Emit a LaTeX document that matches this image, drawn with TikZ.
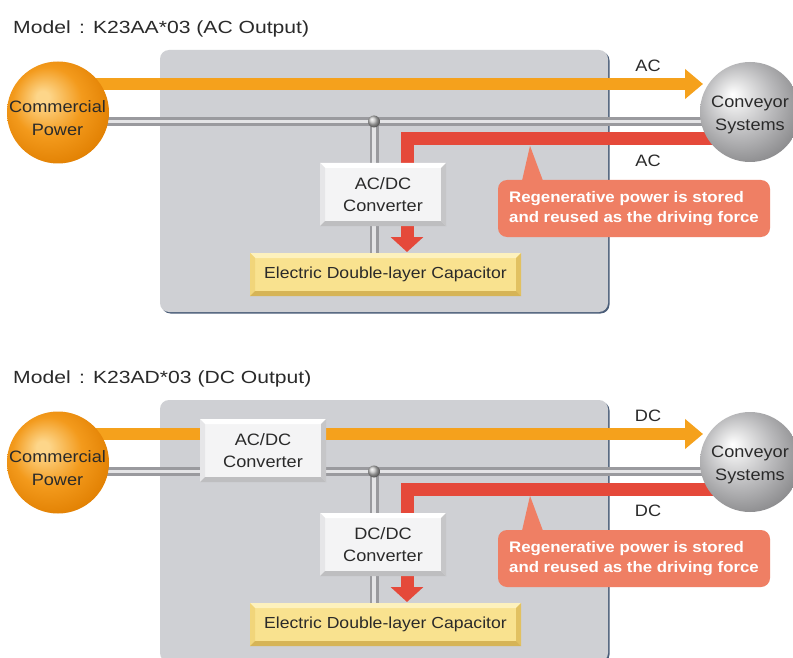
\documentclass[tikz,border=0pt]{standalone}
\usepackage{fontspec}
\setmainfont{Liberation Sans}[FakeStretch=1.1]
\newfontfamily\titlefont{Liberation Sans}[FakeStretch=1.2]
\usetikzlibrary{arrows.meta,calc}
\pgfdeclarelayer{back}
\pgfdeclarelayer{lines}
\pgfsetlayers{back,lines,main}
\definecolor{txtc}{HTML}{2A2A2A}
\definecolor{panelgray}{HTML}{CFD0D4}
\definecolor{paneledge}{HTML}{4A5D78}
\definecolor{flowor}{HTML}{F5A11C}
\definecolor{flowred}{HTML}{E5493A}
\definecolor{callout}{HTML}{EF7F64}
\definecolor{pipedark}{HTML}{9A9A9E}
\definecolor{pipelight}{HTML}{E4E4E6}
\definecolor{convface}{HTML}{F4F4F5}
\definecolor{convtop}{HTML}{FFFFFF}
\definecolor{convleft}{HTML}{E6E6E8}
\definecolor{convright}{HTML}{C6C6C8}
\definecolor{convbot}{HTML}{BEBEC0}
\definecolor{capface}{HTML}{F9E28F}
\definecolor{captop}{HTML}{FDF1BD}
\definecolor{capleft}{HTML}{F1D57A}
\definecolor{capright}{HTML}{E2C161}
\definecolor{capbot}{HTML}{D6B456}
\definecolor{orhi}{HTML}{FDD68A}
\definecolor{ormid}{HTML}{F39A1C}
\definecolor{ordark}{HTML}{E07E00}
\definecolor{svhi}{HTML}{F4F4F4}
\definecolor{svmid}{HTML}{B8B8BA}
\definecolor{svdark}{HTML}{858587}
\pgfdeclareradialshading{orangeball}{\pgfpoint{-8bp}{8bp}}{color(0bp)=(orhi); color(3bp)=(orhi); color(17bp)=(ormid); color(31bp)=(ordark); color(50bp)=(ordark)}
\pgfdeclareradialshading{silverball}{\pgfpoint{-9bp}{9bp}}{color(0bp)=(white); color(3bp)=(svhi); color(18bp)=(svmid); color(32bp)=(svdark); color(50bp)=(svdark)}
\tikzset{
  lbltext/.style={text=txtc, font=\fontsize{16.5}{20}\selectfont, inner sep=0pt},
  ctext/.style={text=txtc, font=\fontsize{16.5}{23.5}\selectfont, align=center, inner sep=0pt},
  cpball/.style={circle, minimum size=102pt, inner sep=0pt, shading=orangeball},
  cvball/.style={circle, minimum size=100pt, inner sep=0pt, shading=silverball},
  bevelbox/.style n args={4}{path picture={
    \fill[#1] (path picture bounding box.north west) -- (path picture bounding box.north east)
      -- ([shift={(-5pt,-5pt)}]path picture bounding box.north east) -- ([shift={(5pt,-5pt)}]path picture bounding box.north west) -- cycle;
    \fill[#2] (path picture bounding box.north west) -- ([shift={(5pt,-5pt)}]path picture bounding box.north west)
      -- ([shift={(5pt,5pt)}]path picture bounding box.south west) -- (path picture bounding box.south west) -- cycle;
    \fill[#3] (path picture bounding box.north east) -- (path picture bounding box.south east)
      -- ([shift={(-5pt,5pt)}]path picture bounding box.south east) -- ([shift={(-5pt,-5pt)}]path picture bounding box.north east) -- cycle;
    \fill[#4] (path picture bounding box.south west) -- (path picture bounding box.south east)
      -- ([shift={(-5pt,5pt)}]path picture bounding box.south east) -- ([shift={(5pt,5pt)}]path picture bounding box.south west) -- cycle;
  }},
  convbox/.style={rectangle, minimum width=126pt, minimum height=63pt, inner sep=0pt, fill=convface,
    bevelbox={convtop}{convleft}{convright}{convbot}, text=txtc, font=\fontsize{16.5}{22}\selectfont, align=center},
  capbox/.style={rectangle, minimum width=271pt, minimum height=43pt, inner sep=0pt, fill=capface,
    bevelbox={captop}{capleft}{capright}{capbot}, text=txtc, font=\fontsize{16}{20}\selectfont},
  calloutbox/.style={rectangle, rounded corners=9pt, minimum width=272pt, minimum height=57pt, inner sep=0pt,
    fill=callout, text=white, font=\bfseries\fontsize{15.3}{20}\selectfont, align=left},
  orflow/.style={draw=flowor, line width=12pt, -{Triangle[length=18pt,width=29pt]}},
  redflow/.style={draw=flowred, line width=13pt, line join=miter, -{Triangle[length=15pt,width=32pt]}},
  pipeout/.style={draw=pipedark, line width=9pt},
  pipein/.style={draw=pipelight, line width=3.5pt},
  titlestyle/.style={anchor=base west, inner sep=0pt, text=txtc, font=\titlefont\fontsize{17.6}{20}\selectfont},
}
\newcommand\drawpanel[5]{%
\begin{scope}[shift={(0,#2)}]
  \node[titlestyle] (#1title) at (13,33.3) {Model\hspace{8.5pt}:\hspace{8pt}#3};
  \begin{pgfonlayer}{back}
    \fill[paneledge, rounded corners=9pt] (161.5,51.5) rectangle (609.5,313.5);
    \fill[panelgray, rounded corners=9pt] (160,50) rectangle (608,312);
  \end{pgfonlayer}
  \node[cpball] (#1cp) at (58,112.5) {};
  \node[ctext] (#1cptext) at (57.5,118) {Commercial\\Power};
  \node[cvball] (#1cv) at (750,112) {};
  \node[ctext, font=\fontsize{16.5}{23}\selectfont] (#1cvtext) at (750,114.8) {Conveyor\\Systems};
  \node[capbox] (#1cap) at (385.5,274.5) {Electric Double-layer Capacitor};
  \node[convbox] (#1conv) at (383,194.5) {#5\\Converter};
  \coordinate (#1jn) at (374,121.5);
  \coordinate (#1or) at (0,84);
  \coordinate (#1otip) at (703,84);
  \coordinate (#1rt) at (407,139);
  \coordinate (#1rtip) at (407,252);
  \begin{pgfonlayer}{lines}
    \draw[pipeout] (#1cp.center |- #1jn) -- (#1cv.center |- #1jn);
    \draw[pipeout] (#1jn) -- (#1jn |- #1cap.north);
    \draw[pipein] (#1cp.center |- #1jn) -- (#1cv.center |- #1jn);
    \draw[pipein] (#1jn) -- (#1jn |- #1cap.north);
    \draw[orflow] (#1cp.center |- #1or) -- (#1otip);
    \draw[redflow] (#1cv.center |- #1rt) -- (#1rt) -- (#1rtip);
    \shade[ball color=gray!45] (#1jn) circle (6pt);
  \end{pgfonlayer}
  \node[calloutbox] (#1co) at (634,208.5) {Regenerative power is stored\\and reused as the driving force};
  \fill[callout] ($(#1co.north)+(-112,1)$) -- ($(#1co.north)+(-104,-34)$) -- ($(#1co.north)+(-91,1)$) -- cycle;
  \node[lbltext] (#1la) at (648,66) {#4};
  \node[lbltext] (#1lb) at (648,161) {#4};
\end{scope}}
\begin{document}
\begin{tikzpicture}[x=1pt,y=-1pt]
\useasboundingbox (0,0) rectangle (793,658);
\begin{pgfonlayer}{back}
  \fill[white] (0,0) rectangle (793,658);
\end{pgfonlayer}
\drawpanel{a}{0}{K23AA*03 (AC Output)}{AC}{AC/DC}
\drawpanel{b}{350}{K23AD*03 (DC Output)}{DC}{DC/DC}
\begin{scope}[shift={(0,350)}]
  \node[convbox] (bconvin) at (263,100.5) {AC/DC\\Converter};
\end{scope}
\end{tikzpicture}
\end{document}
